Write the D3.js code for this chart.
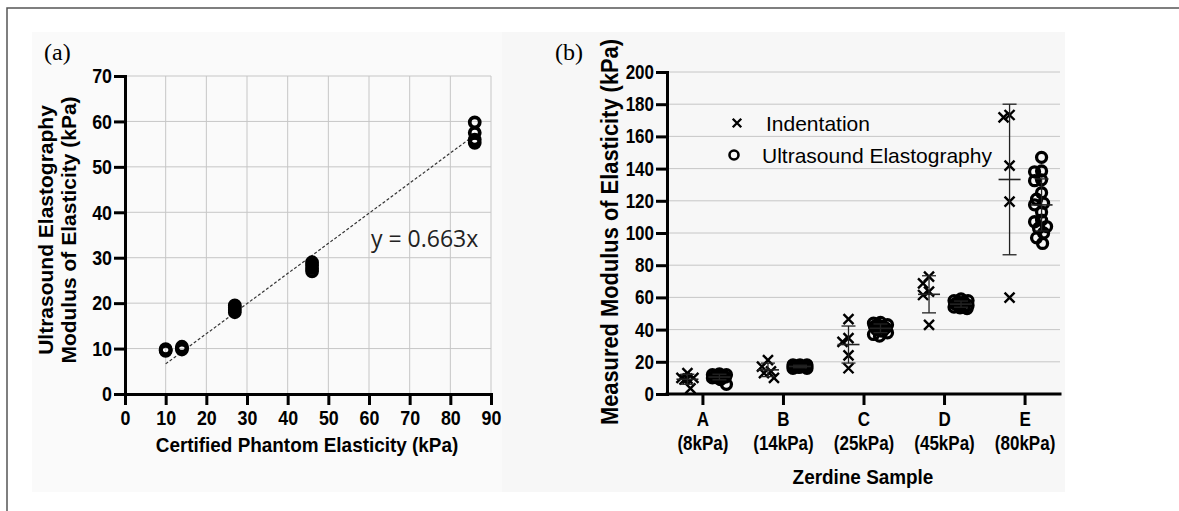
<!DOCTYPE html>
<html>
<head>
<meta charset="utf-8">
<script src="https://cdn.jsdelivr.net/npm/d3@7"></script>
<style>
  body { margin: 0; background: #fff; }
  svg { display: block; }
</style>
</head>
<body>
<div id="chart"></div>
<script>
// ---- panel (a) data ----
const certified = [10, 14, 27, 46, 86];
const ueMeasured = [
  [9.5, 9.7, 9.9],
  [9.8, 10.1, 10.4],
  [18, 18.5, 19, 19.5],
  [27, 27.7, 28.3, 29],
  [55.3, 56, 57.5, 59.8]
];
const slope = 0.663;
const xTicksA = d3.range(0, 91, 10);
const yTicksA = d3.range(0, 71, 10);

// ---- panel (b) data ----
const samples = ["A", "B", "C", "D", "E"];
const nominal = ["(8kPa)", "(14kPa)", "(25kPa)", "(45kPa)", "(80kPa)"];
const indentation = [
  [13, 10, 9.5, 10, 9, 3.5],
  [10, 17, 21, 13, 14],
  [46.5, 32.4, 34.7, 24, 16],
  [72.9, 63.6, 68.7, 61.5, 42.9],
  [173.3, 171.8, 141.8, 119.5, 59.8]
];
const ultrasound = [
  [10, 11, 12, 11, 10, 12, 9, 10.5, 11.5, 6, 11, 12.5],
  [16, 17, 18, 17, 16.5, 18, 17.5, 16, 17, 18],
  [44, 43, 42, 41, 40, 38, 37, 36, 43, 42, 41, 39, 44.5],
  [59, 58, 57, 56, 55, 54, 53, 55, 57, 58, 54, 56, 53.5],
  [147, 138, 138.5, 133, 132.5, 125, 121, 118.5, 117.5, 113, 107, 108, 103, 104, 100, 97, 93.5]
];
const yTicksB = d3.range(0, 201, 20);

const W = 1179, H = 511;
const svg = d3.select("#chart").append("svg")
  .attr("width", W).attr("height", H);

// outer frame (top and left edges show) and panel backgrounds
svg.append("path").attr("d", "M7,520V8H1179")
  .attr("fill", "none").attr("stroke", "#555").attr("stroke-width", 1.5);
svg.append("rect").attr("x", 32).attr("y", 32).attr("width", 470).attr("height", 460)
  .attr("fill", "#fafafa");
svg.append("rect").attr("x", 502).attr("y", 32).attr("width", 563).attr("height", 460)
  .attr("fill", "#f7f7f7");

const SANS = "'Liberation Sans', Arial, sans-serif";

// squeeze text horizontally, the original uses a condensed bold face
function condense(sel, k) {
  sel.each(function () {
    const w = this.getComputedTextLength();
    d3.select(this).attr("textLength", w * k).attr("lengthAdjust", "spacingAndGlyphs");
  });
}

function styleAxis(g, size) {
  g.select(".domain").attr("stroke", "#000").attr("stroke-width", 3)
    .attr("stroke-linecap", "square");
  g.selectAll(".tick line").attr("stroke", "#000").attr("stroke-width", 3);
  g.selectAll(".tick text").attr("fill", "#000")
    .style("font-family", SANS).style("font-weight", "bold").style("font-size", size + "px");
}

// greedy beeswarm limited to +/- maxOff px
function swarm(vals, y, d, maxOff) {
  const order = vals.map((v, i) => i).sort((a, b) => vals[b] - vals[a]);
  const placed = [];
  const out = new Array(vals.length);
  order.forEach((i) => {
    const py = y(vals[i]);
    let best = 0, bestD = -1;
    for (let k = 0; k <= maxOff * 2; k++) {
      const dx = (k % 2 === 0 ? 1 : -1) * Math.ceil(k / 2);
      const md = placed.length ? d3.min(placed, (p) => Math.hypot(p.x - dx, p.y - py)) : Infinity;
      if (md >= d) { best = dx; bestD = md; break; }
      if (md > bestD) { best = dx; bestD = md; }
    }
    placed.push({ x: best, y: py });
    out[i] = best;
  });
  return out;
}

// ================= panel (a) =================
const xA = d3.scaleLinear().domain([0, 90]).range([125, 491]);
const yA = d3.scaleLinear().domain([0, 70]).range([394, 76]);
const a = svg.append("g");

// grid
a.append("g").selectAll("line").data(xTicksA.slice(1)).enter().append("line")
  .attr("x1", (d) => xA(d)).attr("x2", (d) => xA(d))
  .attr("y1", yA(0)).attr("y2", yA(70))
  .attr("stroke", "#c6c6c6").attr("stroke-width", 1);
a.append("g").selectAll("line").data(yTicksA.slice(1)).enter().append("line")
  .attr("y1", (d) => yA(d)).attr("y2", (d) => yA(d))
  .attr("x1", xA(0)).attr("x2", xA(90))
  .attr("stroke", "#c6c6c6").attr("stroke-width", 1);

// fit line
a.append("line")
  .attr("x1", xA(certified[0])).attr("y1", yA(slope * certified[0]))
  .attr("x2", xA(certified[certified.length - 1])).attr("y2", yA(slope * certified[certified.length - 1]))
  .attr("stroke", "#333").attr("stroke-width", 1.2).attr("stroke-dasharray", "3,2");

a.append("text").attr("x", 371).attr("y", 247)
  .style("font-family", "'Open Sans', sans-serif").style("font-size", "23px")
  .attr("fill", "#222").text(`y = ${slope}x`);

// points
const ptsA = [];
certified.forEach((c, i) => ueMeasured[i].forEach((v) => ptsA.push({ x: c, y: v })));
a.append("g").selectAll("circle").data(ptsA).enter().append("circle")
  .attr("cx", (d) => xA(d.x)).attr("cy", (d) => yA(d.y)).attr("r", 5)
  .attr("fill", "none").attr("stroke", "#000").attr("stroke-width", 3.8);

a.append("g").attr("transform", `translate(0,${yA(0)})`)
  .call(d3.axisBottom(xA).tickValues(xTicksA).tickSize(11).tickSizeOuter(0).tickPadding(5))
  .call(styleAxis, 21)
  .selectAll(".tick text").call(condense, 0.85);
a.append("g").attr("transform", `translate(${xA(0)},0)`)
  .call(d3.axisLeft(yA).tickValues(yTicksA).tickSize(11).tickSizeOuter(0).tickPadding(2))
  .call(styleAxis, 21)
  .selectAll(".tick text").call(condense, 0.85);

a.append("text").attr("x", 307).attr("y", 452).attr("text-anchor", "middle")
  .style("font-family", SANS).style("font-weight", "bold").style("font-size", "21px")
  .text("Certified Phantom Elasticity (kPa)").call(condense, 0.9);
const yTitleA = a.append("text").attr("transform", "translate(0,230) rotate(-90)")
  .attr("text-anchor", "middle")
  .style("font-family", SANS).style("font-weight", "bold").style("font-size", "21px");
yTitleA.append("tspan").attr("x", 0).attr("y", 53).text("Ultrasound Elastography");
yTitleA.append("tspan").attr("x", 0).attr("y", 76).text("Modulus of Elasticity (kPa)");

svg.append("text").attr("x", 44).attr("y", 60)
  .style("font-family", "'Liberation Serif', 'Times New Roman', serif").style("font-size", "24px")
  .text("(a)");

// ================= panel (b) =================
const xB = d3.scalePoint().domain(samples).range([667, 1060]).padding(0.44);
const yB = d3.scaleLinear().domain([0, 200]).range([394, 72]);
const b = svg.append("g");

b.append("g").selectAll("line").data(yTicksB.slice(1)).enter().append("line")
  .attr("y1", (d) => yB(d)).attr("y2", (d) => yB(d))
  .attr("x1", 667).attr("x2", 1060)
  .attr("stroke", "#c6c6c6").attr("stroke-width", 1);

const indOffset = -15, usOffset = 17;
const crossPath = "M-5,-5L5,5M-5,5L5,-5";

function drawGroup(vals, cat, offset, kind) {
  const cx = xB(cat) + offset;
  const dx = kind === "cross" ? swarm(vals, yB, 10, 6) : swarm(vals, yB, 8, 7);
  const g = b.append("g");
  if (kind === "cross") {
    g.selectAll("path").data(vals).enter().append("path")
      .attr("d", crossPath)
      .attr("transform", (d, i) => `translate(${cx + dx[i]},${yB(d)})`)
      .attr("fill", "none").attr("stroke", "#000").attr("stroke-width", 2.4);
  } else {
    g.selectAll("circle").data(vals).enter().append("circle")
      .attr("cx", (d, i) => cx + dx[i]).attr("cy", (d) => yB(d)).attr("r", 5)
      .attr("fill", "none").attr("stroke", "#000").attr("stroke-width", 3.3);
  }
  // mean +/- SD
  const m = d3.mean(vals), sd = d3.deviation(vals);
  const eb = b.append("g").attr("stroke", "#222").attr("stroke-width", 1.3);
  eb.append("line").attr("x1", cx).attr("x2", cx).attr("y1", yB(m - sd)).attr("y2", yB(m + sd));
  [m - sd, m + sd].forEach((v) => {
    eb.append("line").attr("x1", cx - 7).attr("x2", cx + 7).attr("y1", yB(v)).attr("y2", yB(v));
  });
  eb.append("line").attr("x1", cx - 11).attr("x2", cx + 11).attr("y1", yB(m)).attr("y2", yB(m))
    .attr("stroke-width", 1.6);
}

samples.forEach((s, i) => {
  drawGroup(indentation[i], s, indOffset, "cross");
  drawGroup(ultrasound[i], s, usOffset, "circle");
});

const xAxisB = b.append("g").attr("transform", `translate(0,${yB(0)})`)
  .call(d3.axisBottom(xB).tickSize(11).tickSizeOuter(0).tickPadding(7))
  .call(styleAxis, 20);
xAxisB.select(".domain").attr("d", `M${667},0H${1060}`);
xAxisB.selectAll(".tick text").each(function (d, i) {
  const t = d3.select(this);
  t.text(null);
  t.append("tspan").attr("x", 0).attr("dy", "0.71em").text(d);
  t.append("tspan").attr("x", 0).attr("dy", "1.2em").text(nominal[i]);
});
xAxisB.selectAll(".tick text tspan").call(condense, 0.85);
b.append("g").attr("transform", `translate(667,0)`)
  .call(d3.axisLeft(yB).tickValues(yTicksB).tickSize(11).tickSizeOuter(0).tickPadding(2))
  .call(styleAxis, 20)
  .selectAll(".tick text").call(condense, 0.85);

b.append("text").attr("x", 863).attr("y", 484).attr("text-anchor", "middle")
  .style("font-family", SANS).style("font-weight", "bold").style("font-size", "21px")
  .text("Zerdine Sample").call(condense, 0.9);
b.append("text").attr("transform", "translate(618,232) rotate(-90)")
  .attr("text-anchor", "middle")
  .style("font-family", SANS).style("font-weight", "bold").style("font-size", "23px")
  .text("Measured Modulus of Elasticity (kPa)").call(condense, 0.95);

// legend
const legend = b.append("g").style("font-family", SANS).style("font-size", "21px");
legend.append("path").attr("d", crossPath).attr("transform", "translate(737,123) scale(0.85)")
  .attr("fill", "none").attr("stroke", "#000").attr("stroke-width", 2.8);
legend.append("text").attr("x", 766).attr("y", 131).text("Indentation");
legend.append("circle").attr("cx", 734).attr("cy", 155).attr("r", 4.5)
  .attr("fill", "none").attr("stroke", "#000").attr("stroke-width", 2.6);
legend.append("text").attr("x", 762).attr("y", 163).text("Ultrasound Elastography");

svg.append("text").attr("x", 555).attr("y", 60)
  .style("font-family", "'Liberation Serif', 'Times New Roman', serif").style("font-size", "24px")
  .text("(b)");
</script>
</body>
</html>
